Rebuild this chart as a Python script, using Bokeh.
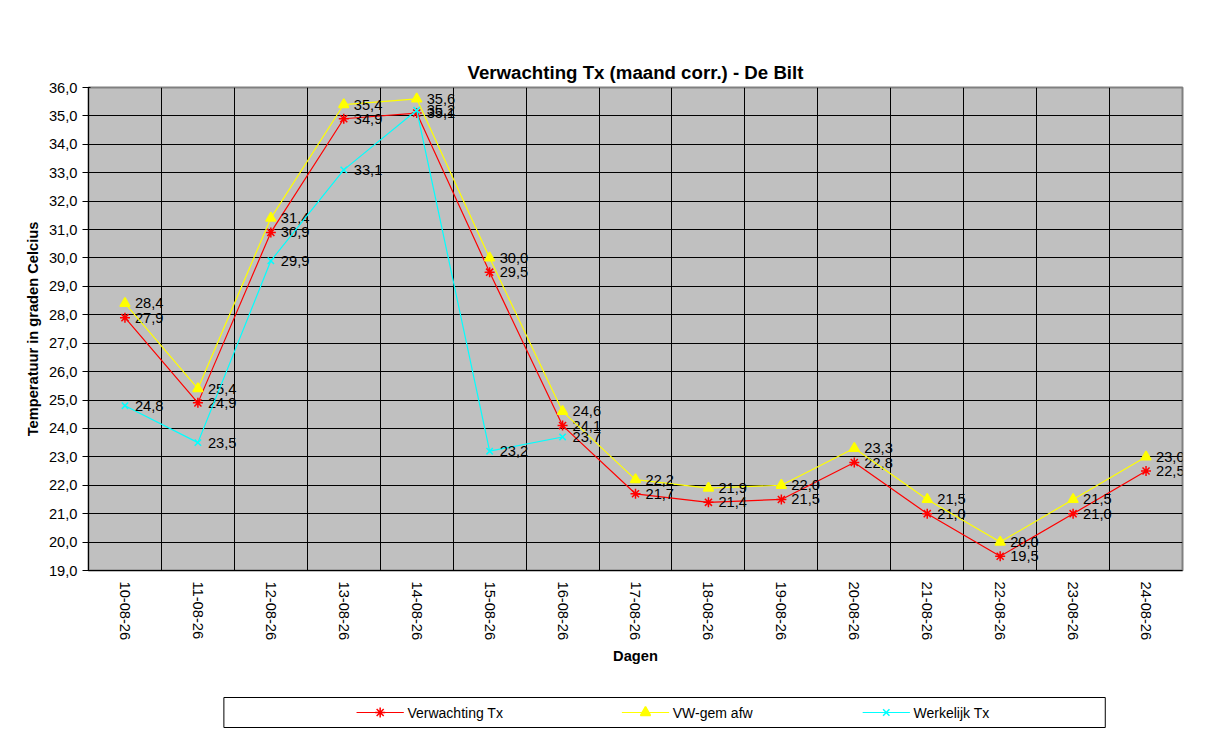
from bokeh.plotting import figure
from bokeh.layouts import column
from bokeh.models import FixedTicker, ColumnDataSource, Range1d
from bokeh.embed import file_html
from bokeh.resources import INLINE
from bokeh.core.properties import value

dates = ["10-08-26","11-08-26","12-08-26","13-08-26","14-08-26","15-08-26","16-08-26","17-08-26",
         "18-08-26","19-08-26","20-08-26","21-08-26","22-08-26","23-08-26","24-08-26"]
verwachting = [27.9,24.9,30.9,34.9,35.1,29.5,24.1,21.7,21.4,21.5,22.8,21.0,19.5,21.0,22.5]
vwgem = [28.4,25.4,31.4,35.4,35.6,30.0,24.6,22.2,21.9,22.0,23.3,21.5,20.0,21.5,23.0]
werkelijk = [24.8,23.5,29.9,33.1,35.2,23.2,23.7]

F = "Liberation Sans"
p = figure(width=1204, height=682, output_backend="svg", toolbar_location=None,
           x_range=Range1d(-0.5, 14.5), y_range=Range1d(19, 36),
           min_border_left=88, min_border_right=22, min_border_top=87, min_border_bottom=112,
           title="Verwachting Tx (maand corr.) - De Bilt")
p.title.align = "center"; p.title.text_font = F; p.title.text_font_size = "14pt"
p.title.text_font_style = "bold"; p.title.offset = 0; p.title.text_color = "black"
p.background_fill_color = "#C0C0C0"
p.outline_line_color = "#808080"; p.outline_line_width = 2

xs = list(range(len(dates)))
p.xaxis.ticker = FixedTicker(ticks=xs)
p.xaxis.major_label_overrides = {i: d for i, d in enumerate(dates)}
p.xaxis.major_label_orientation = -1.5708
p.xaxis.major_tick_line_color = None
p.xgrid.ticker = FixedTicker(ticks=[i - 0.5 for i in range(16)])
p.yaxis.ticker = FixedTicker(ticks=list(range(19, 37)))
p.yaxis.major_label_overrides = {v: f"{v},0" for v in range(19, 37)}
for g in (p.xgrid, p.ygrid):
    g.grid_line_color = "black"; g.grid_line_alpha = 1
for ax in (p.xaxis, p.yaxis):
    ax.major_label_text_font = F; ax.major_label_text_font_size = "11pt"
    ax.axis_label_text_font = F; ax.axis_label_text_font_style = "bold"
    ax.axis_label_text_font_size = "11pt"; ax.minor_tick_line_color = None
    ax.axis_line_color = "black"; ax.major_label_text_color = "black"
    ax.axis_label_text_color = "black"
p.xaxis.axis_label = "Dagen"
p.yaxis.axis_label = "Temperatuur in graden Celcius"

def lab(v): return f"{v:.1f}".replace(".", ",")

series = [("Verwachting Tx", verwachting, "#FF0000", "asterisk", 10),
          ("VW-gem afw", vwgem, "#FFFF00", "triangle", 10),
          ("Werkelijk Tx", werkelijk, "#00FFFF", "x", 9)]
for name, ys, c, m, s in series:
    src = ColumnDataSource(dict(x=xs[:len(ys)], y=ys, t=[lab(v) for v in ys]))
    p.line("x", "y", source=src, line_color=c, line_width=1.2)
    p.scatter("x", "y", source=src, marker=m, size=s, line_color=c, fill_color=c, line_width=1.5)
    p.text("x", "y", text="t", source=src, x_offset=10, text_baseline="middle",
           text_font=value(F), text_font_size="11pt", text_color="black")

# legend panel (pixel coordinates)
lg = figure(width=1204, height=52, output_backend="svg", toolbar_location=None,
            x_range=Range1d(8, 1212), y_range=Range1d(742, 690),
            min_border=0, outline_line_color=None)
lg.axis.visible = False
lg.grid.visible = False
lg.quad(left=[157], right=[1127], top=[705], bottom=[735], fill_color="white", line_color="black")
lx = [303, 595, 860]
for (name, ys, c, m, s), x0 in zip(series, lx):
    lg.line([x0, x0 + 52], [720, 720], line_color=c, line_width=1.2)
    lg.scatter([x0 + 26], [720], marker=m, size=s, line_color=c, fill_color=c, line_width=1.5)
    lg.text([x0 + 56], [720], text=[name], text_baseline="middle",
            text_font=value(F), text_font_size="10.5pt", text_color="black")

open("out.html", "w").write(file_html(column(p, lg, spacing=0), INLINE))
